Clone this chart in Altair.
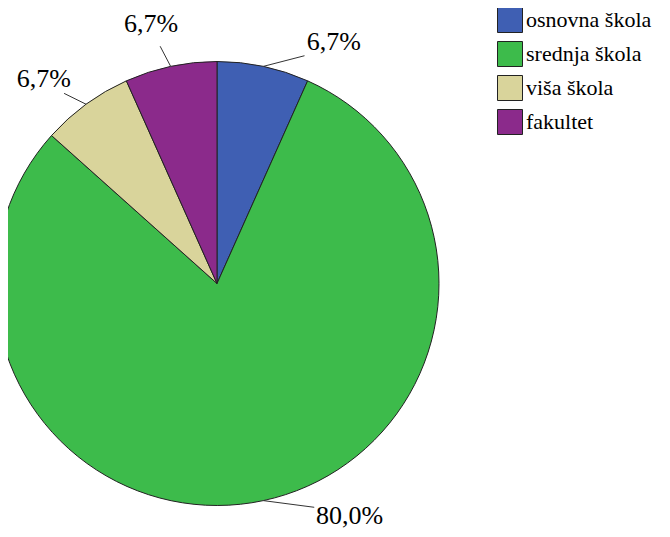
import altair as alt
import pandas as pd

# ---- data ----
categories = ["osnovna škola", "srednja škola", "viša škola", "fakultet"]
percent = [6.7, 80.0, 6.7, 6.7]
labels = ["6,7%", "80,0%", "6,7%", "6,7%"]
colors = ["#3f5fb3", "#3dbb4b", "#d9d49b", "#8b2a8b"]

# ---- layout (label angular nudges in degrees, like SPSS label placement) ----
label_shift_deg = [13.8, -17.6, -4.1, -2.2]

FONT = "Liberation Serif"
CX, CY, R = 209, 275.5, 222      # pie centre / radius (pixels in plot area)
R_LABEL = 268
R_LINE_END = 244

df = pd.DataFrame({
    "cat": categories,
    "pct": percent,
    "label": labels,
    "order": list(range(len(categories))),
    "shift": label_shift_deg,
})

base = alt.Chart(df)

pie = base.mark_arc(radius=R, stroke="#222222", strokeWidth=1).encode(
    theta=alt.Theta("pct:Q", stack=True),
    color=alt.Color(
        "cat:N",
        scale=alt.Scale(domain=categories, range=colors),
        sort=categories,
        legend=alt.Legend(
            title=None,
            orient="none",
            legendX=489,
            legendY=-1,
            symbolType="square",
            symbolSize=625,
            symbolStrokeColor="#222222",
            symbolStrokeWidth=1,
            symbolOpacity=1,
            labelFont=FONT,
            labelFontSize=22,
            labelColor="black",
            labelOffset=3,
            rowPadding=4,
            padding=0,
            labelLimit=300,
        ),
    ),
    order=alt.Order("order:Q"),
    x=alt.value(CX),
    y=alt.value(CY),
)

geo = (
    base.transform_joinaggregate(total="sum(pct)")
    .transform_window(cum="sum(pct)", sort=[alt.SortField("order")], frame=[None, 0])
    .transform_calculate(
        mid="(datum.cum - datum.pct/2) / datum.total * 2 * PI",
    )
    .transform_calculate(
        la="datum.mid + datum.shift * PI / 180",
        le="datum.mid + datum.shift * 0.65 * PI / 180",
    )
    .transform_calculate(
        lx=f"{CX} + {R_LABEL} * sin(datum.la)",
        ly=f"{CY} - {R_LABEL} * cos(datum.la)",
        x1=f"{CX} + {R} * sin(datum.mid)",
        y1=f"{CY} - {R} * cos(datum.mid)",
        x2=f"{CX} + {R_LINE_END} * sin(datum.le)",
        y2=f"{CY} - {R_LINE_END} * cos(datum.le)",
    )
)

rules = geo.mark_rule(color="#333333", strokeWidth=1).encode(
    x=alt.X("x1:Q", scale=None, axis=None),
    y=alt.Y("y1:Q", scale=None, axis=None),
    x2="x2:Q",
    y2="y2:Q",
)

text = geo.mark_text(
    font=FONT, fontSize=26, color="black",
    align="center", baseline="middle",
).encode(
    x=alt.X("lx:Q", scale=None, axis=None),
    y=alt.Y("ly:Q", scale=None, axis=None),
    text="label:N",
)

chart = (
    alt.layer(pie, rules, text)
    .properties(width=654, height=521, padding=0, autosize="none", background="white")
    .configure_view(stroke=None)
)

chart.save("out.html", embed_options={"renderer": "svg", "actions": False})
